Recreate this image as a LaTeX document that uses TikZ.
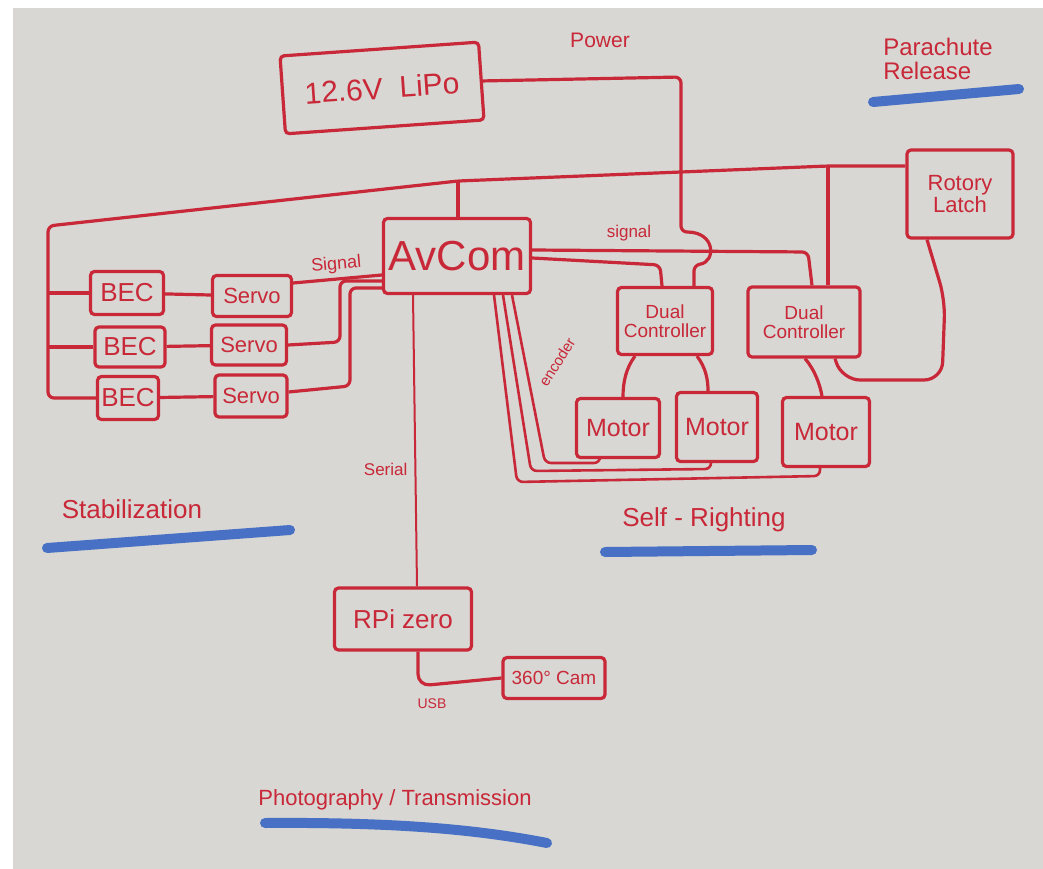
\documentclass[tikz,border=0pt]{standalone}
\usepackage{fontspec}
\setmainfont{Liberation Sans}
\usetikzlibrary{calc}

\definecolor{marker}{RGB}{200,40,56}
\definecolor{board}{RGB}{216,215,211}
\definecolor{ink}{RGB}{72,112,196}

\newcommand{\fs}[1]{\fontsize{#1}{#1}\selectfont}

\begin{document}
\begin{tikzpicture}[x=1pt, y=-1pt,
  box/.style={draw=marker, line width=3.2pt, rounded corners=4pt, text=marker,
    align=center, inner sep=2pt},
  wire/.style={draw=marker, line width=3.2pt, rounded corners=6pt},
  note/.style={text=marker, inner sep=1pt},
  brush/.style={draw=ink, line width=10pt, line cap=round}]

  \fill[white] (0,0) rectangle (1043,869);
  \fill[board] (13,8) rectangle (1043,869);

  \node (LiPo) at (382,88) [box, rotate=4, minimum width=199pt, minimum height=78pt,
    font=\fs{30}] {12.6V\ \ LiPo};
  \node (Latch) at (960,194) [box, minimum width=106pt, minimum height=88pt,
    font=\fs{22}] {Rotory\\Latch};
  \node (AvCom) at (457,256) [box, minimum width=147pt, minimum height=75pt,
    font=\fs{42}] {AvCom};

  \node (BEC1) at (127,293) [box, minimum width=73pt, minimum height=43pt, font=\fs{26}] {BEC};
  \node (BEC2) at (130,347) [box, minimum width=70pt, minimum height=40pt, font=\fs{26}] {BEC};
  \node (BEC3) at (128,398) [box, minimum width=61pt, minimum height=43pt, font=\fs{26}] {BEC};

  \node (Servo1) at (252,296) [box, minimum width=79pt, minimum height=41pt, font=\fs{22}] {Servo};
  \node (Servo2) at (249,345) [box, minimum width=75pt, minimum height=40pt, font=\fs{22}] {Servo};
  \node (Servo3) at (251,396) [box, minimum width=72pt, minimum height=42pt, font=\fs{22}] {Servo};

  \node (DC1) at (665,321) [box, minimum width=95pt, minimum height=67pt,
    font=\fs{19}] {Dual\\Controller};
  \node (DC2) at (804,322) [box, minimum width=112pt, minimum height=70pt,
    font=\fs{19}] {Dual\\Controller};

  \node (Motor1) at (618,428) [box, minimum width=83pt, minimum height=59pt, font=\fs{25}] {Motor};
  \node (Motor2) at (717,427) [box, minimum width=81pt, minimum height=69pt, font=\fs{25}] {Motor};
  \node (Motor3) at (826,432) [box, minimum width=87pt, minimum height=69pt, font=\fs{25}] {Motor};

  \node (RPi) at (403,619) [box, minimum width=137pt, minimum height=62pt, font=\fs{26}] {RPi zero};
  \node (Cam) at (554,678) [box, minimum width=102pt, minimum height=41pt, font=\fs{19}] {360° Cam};

  % power bus
  \coordinate (BusCorner) at (48,226);
  \coordinate (AvTap) at (458,181);
  \coordinate (PowerTap) at (681,172);
  \coordinate (LatchTap) at (828,166);
  \coordinate (Hop) at (694,265);

  \draw[wire] (BEC3.west) -| (BusCorner) -- (AvTap) -- (PowerTap) -- (LatchTap)
    -- (Latch.west |- LatchTap);
  \draw[wire] (BEC1.west) -- (BEC1.west -| BusCorner);
  \draw[wire] (BEC2.west) -- (BEC2.west -| BusCorner);
  \draw[wire] (AvTap) -- (AvCom.north -| AvTap);
  \draw[wire] (LatchTap) -- (DC2.north -| LatchTap);

  \draw[wire] (LiPo.east) -- (681,77) -- (PowerTap) -- (681,232)
    .. controls (716,232) and (716,262) .. (Hop) -- (DC1.north -| Hop);

  \node (Power) at (600,40) [note, font=\fs{21}] {Power};

  % servos
  \draw[wire] (BEC1) -- (Servo1);
  \draw[wire] (BEC2) -- (Servo2);
  \draw[wire] (BEC3) -- (Servo3);

  \draw[wire] ([yshift=13pt]Servo1.east) -- node[note, above=3pt, sloped, font=\fs{18}] {Signal}
    ([yshift=-19pt]AvCom.west);
  \draw[wire] (Servo2.east) -- (340,342) -- (340,281) -- ([yshift=-25pt]AvCom.west);
  \draw[wire] ([yshift=4pt]Servo3.east) -- (350,386) -- (350,288) -- ([yshift=-32pt]AvCom.west);

  % controllers
  \draw[wire] ([yshift=6pt]AvCom.east) -- (808,252) -- ([xshift=8pt]DC2.north);
  \draw[wire] ([yshift=-2pt]AvCom.east) -- (660,265) -- ([xshift=-3pt]DC1.north);
  \node (SigLabel) at (629,233) [note, font=\fs{17}] {signal};

  \draw[wire] ([xshift=-30pt]DC1.south) .. controls (626,368) and (623,382) .. ([xshift=5pt]Motor1.north);
  \draw[wire] ([xshift=32pt]DC1.south) .. controls (706,368) and (708,380) .. ([xshift=-9pt]Motor2.north);
  \draw[wire] ([xshift=1pt]DC2.south) .. controls (815,370) and (820,385) .. ([xshift=-4pt]Motor3.north);

  \draw[wire, rounded corners=18pt] ([xshift=31pt]DC2.south) -- (842,380) -- (942,380)
    -- (945,300) -- ([xshift=-33pt]Latch.south);

  % encoder returns
  \draw[wire, line width=2.6pt] ([xshift=55pt]AvCom.south) -- (545,463) -- (600,463)
    -- ([xshift=-18pt]Motor1.south);
  \draw[wire, line width=2.6pt] ([xshift=46pt]AvCom.south) -- (531,471) -- (711,469)
    -- ([xshift=-6pt]Motor2.south);
  \draw[wire, line width=2.6pt] ([xshift=37pt]AvCom.south) -- (517,482) -- (820,476)
    -- ([xshift=-6pt]Motor3.south);
  \node (EncLabel) at (557,362) [note, rotate=58, font=\fs{15}] {encoder};

  % camera
  \draw[wire, line width=2pt] ([xshift=-44pt]AvCom.south) -- node[note, left=6pt, pos=0.6, font=\fs{17}] {Serial}
    ([xshift=14pt]RPi.north);
  \draw[wire, rounded corners=12pt] ([xshift=15pt]RPi.south) -- (418,686)
    node[note, below=10pt, xshift=14pt, font=\fs{14}] {USB} -- (Cam.west);

  % section titles
  \node (Chute) at (938,59) [note, align=left, font=\fs{24}] {Parachute\\Release};
  \draw[brush] (873,102) -- (1019,89);

  \node (Stab) at (132,509) [note, font=\fs{26}] {Stabilization};
  \draw[brush] (47,548) -- (290,530);

  \node (Righting) at (704,520) [note, font=\fs{26}] {Self - Righting};
  \draw[brush] (605,552) -- (812,550);

  \node (Photo) at (395,800) [note, font=\fs{22}] {Photography / Transmission};
  \draw[brush] (265,823) .. controls (400,822) and (480,830) .. (547,843);
\end{tikzpicture}
\end{document}
